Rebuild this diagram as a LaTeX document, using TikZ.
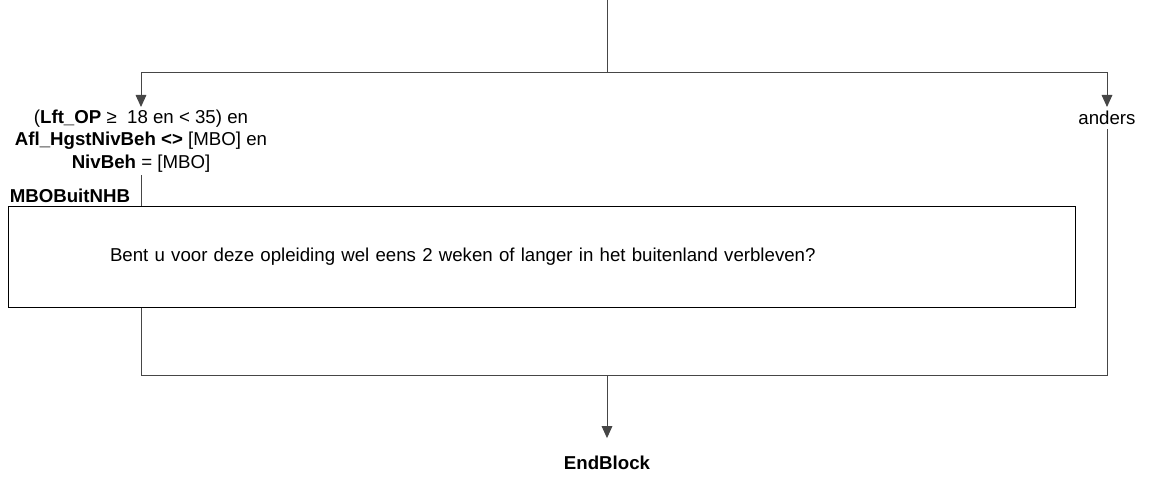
\documentclass[tikz,border=0pt]{standalone}
\usepackage{fontspec}
\setmainfont{Liberation Sans}
\usetikzlibrary{arrows.meta, positioning}
\definecolor{myline}{RGB}{70, 70, 70}

\begin{document}
\begin{tikzpicture}[x=0.75pt, y=-0.75pt, font=\fontsize{14}{16.9}\selectfont,
    flow/.style={draw=myline, line width=0.75pt},
    flowarrow/.style={flow, -{Triangle[length=9pt, width=8pt]}, shorten >=0pt}]
  \useasboundingbox (0,0) rectangle (1149,477);
  % Entry and split point
  \coordinate (start) at (607,0);
  \coordinate (split) at (607,73);
  \coordinate (join) at (607,375);
  % Branch labels
  \node[align=center, anchor=north, inner sep=2pt] (cond) at (141,107)
    {(\textbf{Lft\_OP} ≥\ \ 18 en < 35) en\\
     \textbf{Afl\_HgstNivBeh <>} [MBO] en\\
     \textbf{NivBeh} = [MBO]};
  \node[anchor=north, inner sep=3pt] (anders) at (1107,107) {anders};
  % Question box
  \node[draw=black, line width=0.75pt, minimum height=75pt, text width=647.25pt,
        inner xsep=76.5pt, align=left] (q) at (541.5,257)
    {Bent u voor deze opleiding wel eens 2 weken of langer in het buitenland verbleven?};
  \node[above right=0pt and 0pt of q.north west, inner xsep=1.5pt, inner ysep=2.5pt,
        font=\fontsize{14}{16}\selectfont\bfseries] (qname) {MBOBuitNHB};
  % End
  \node[font=\fontsize{14}{16}\selectfont\bfseries] (end) at (607,463) {EndBlock};
  % Connectors
  \draw[flow] (start) -- (split);
  \draw[flowarrow] (split) -- (split -| cond) -- (cond.north);
  \draw[flowarrow] (split) -- (split -| anders) -- (anders.north);
  \draw[flow] (cond.south) -- (cond.south |- q.north);
  \draw[flow] (cond |- q.south) -- (cond |- join) -- (anders |- join) -- (anders.south);
  \draw[flowarrow, shorten >=10pt] (join) -- (end.north);
\end{tikzpicture}
\end{document}
